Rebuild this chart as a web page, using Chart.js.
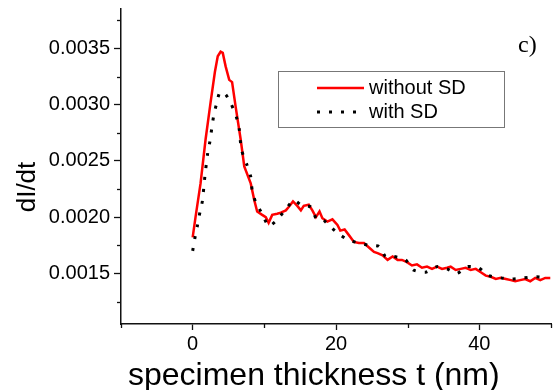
<!DOCTYPE html>
<html>
<head>
<meta charset="utf-8">
<script src="https://cdn.jsdelivr.net/npm/chart.js@4"></script>
<style>
  html, body { margin: 0; padding: 0; background: #fff; }
  #wrap { width: 555px; height: 390px; }
</style>
</head>
<body>
<div id="wrap"><canvas id="chart" width="555" height="390"></canvas></div>
<script>
// thickness (nm) and dI/dt values
const redT = [0, 0.4, 1.1, 1.8, 2.5, 3.1, 3.5, 3.9, 4.2, 4.6, 5.1, 5.5, 6.0, 6.7, 7.2, 8.1, 8.6, 9.0, 9.7, 10.2,
  10.6, 11.1, 11.8, 12.3, 13.0, 13.4, 14.0, 14.6, 15.1, 15.5, 16.2, 16.7, 17.2, 17.7, 18.1, 18.8, 19.5, 20.2, 20.6, 21.2,
  21.8, 22.5, 23.2, 23.9, 24.6, 25.3, 25.8, 26.5, 27.2, 27.9, 28.6, 29.2, 29.9, 30.6, 31.3, 32.0, 32.7, 33.4, 34.1, 34.8,
  35.5, 36.0, 36.7, 37.4, 38.1, 38.8, 39.5, 40.2, 40.9, 41.6, 42.3, 43.0, 43.7, 44.4, 45.0, 45.7, 46.4, 47.1, 47.8, 48.5,
  49.2, 49.9];
const redV = [0.00182, 0.00200, 0.00230, 0.00269, 0.00302, 0.00329, 0.00343, 0.00347, 0.00346, 0.00334, 0.00322, 0.00320,
  0.00298, 0.00269, 0.00245, 0.00230, 0.00215, 0.00205, 0.00202, 0.00200, 0.00195, 0.00202, 0.00203, 0.00204, 0.00206,
  0.00209, 0.00214, 0.00210, 0.00206, 0.00210, 0.00211, 0.00206, 0.00200, 0.00205, 0.00199, 0.00196, 0.00198, 0.00193,
  0.00188, 0.00189, 0.00184, 0.00178, 0.00177, 0.00177, 0.00173, 0.00169, 0.00168, 0.00166, 0.00162, 0.00165, 0.00162,
  0.00162, 0.00160, 0.00157, 0.00158, 0.00155, 0.00156, 0.00154, 0.00156, 0.00154, 0.00155, 0.00156, 0.00153, 0.00154,
  0.00155, 0.00153, 0.00154, 0.00151, 0.00148, 0.00147, 0.00145, 0.00146, 0.00145, 0.00144, 0.00143, 0.00144, 0.00145,
  0.00143, 0.00146, 0.00144, 0.00146, 0.00146];

const blackT = [0, 0.3, 0.65, 1.0, 1.35, 1.7, 2.1, 2.4, 2.9, 3.3, 3.8, 4.6, 5.4, 6.1, 6.5, 6.8, 7.6, 8.1, 8.3, 8.8,
  9.7, 10.6, 11.7, 13.0, 14.1, 15.3, 16.5, 17.3, 18.3, 19.3, 20.4, 21.6, 23.2, 24.6, 26.0, 26.9, 28.1, 29.7, 30.8, 32.5,
  34.1, 35.5, 36.9, 38.3, 39.9, 41.3, 43.0, 44.6, 46.2, 47.8, 49.5];
const blackV = [0.00170, 0.00181, 0.00192, 0.00204, 0.00214, 0.00236, 0.00257, 0.00267, 0.00289, 0.00300, 0.00311,
  0.00309, 0.00300, 0.00289, 0.00278, 0.00260, 0.00246, 0.00236, 0.00224, 0.00213, 0.00203, 0.00192, 0.00197, 0.00207,
  0.00215, 0.00210, 0.00209, 0.00198, 0.00197, 0.00191, 0.00185, 0.00180, 0.00177, 0.00175, 0.00174, 0.00165, 0.00165,
  0.00162, 0.00153, 0.00151, 0.00156, 0.00154, 0.00150, 0.00156, 0.00155, 0.00148, 0.00146, 0.00145, 0.00146, 0.00147,
  0.00146];

const seriesLabels = ["without SD", "with SD"];

// axis ticks
const xMajor = [0, 20, 40];
const xMinor = [-10, 10, 30, 50];
const yMajor = [0.0015, 0.0020, 0.0025, 0.0030, 0.0035];
const yMinor = [0.00125, 0.00175, 0.00225, 0.00275, 0.00325, 0.00375];

const FONT = "'Liberation Sans', Arial, sans-serif";

// minor ticks, axis titles, panel letter and the boxed legend
const extras = {
  id: "extras",
  afterDraw(chart) {
    const { ctx, chartArea, scales } = chart;
    ctx.save();
    ctx.strokeStyle = "#111";
    ctx.lineWidth = 1.3;
    xMinor.forEach((v) => {
      const px = Math.round(scales.x.getPixelForValue(v)) + 0.5;
      ctx.beginPath();
      ctx.moveTo(px, chartArea.bottom);
      ctx.lineTo(px, chartArea.bottom + 4);
      ctx.stroke();
    });
    yMinor.forEach((v) => {
      const py = Math.round(scales.y.getPixelForValue(v)) + 0.5;
      ctx.beginPath();
      ctx.moveTo(chartArea.left, py);
      ctx.lineTo(chartArea.left - 4, py);
      ctx.stroke();
    });

    ctx.fillStyle = "#000";
    ctx.font = "32px " + FONT;
    ctx.textAlign = "left";
    ctx.textBaseline = "alphabetic";
    ctx.fillText("specimen thickness t (nm)", 128, 385);

    ctx.save();
    ctx.translate(35, 187);
    ctx.rotate(-Math.PI / 2);
    ctx.font = "26px " + FONT;
    ctx.textAlign = "center";
    ctx.fillText("dI/dt", 0, 0);
    ctx.restore();

    ctx.font = "24px 'Liberation Serif', 'Times New Roman', serif";
    ctx.textAlign = "left";
    ctx.fillText("c)", 518, 52);

    // legend
    ctx.strokeStyle = "#777";
    ctx.lineWidth = 1;
    ctx.strokeRect(278.5, 71.5, 226, 56);
    const rows = [88, 112];
    chart.data.datasets.forEach((ds, i) => {
      ctx.save();
      ctx.strokeStyle = ds.borderColor;
      ctx.lineWidth = ds.borderWidth;
      ctx.setLineDash(ds.borderDash || []);
      ctx.beginPath();
      ctx.moveTo(317, rows[i]);
      ctx.lineTo(364, rows[i]);
      ctx.stroke();
      ctx.restore();
      ctx.fillStyle = "#000";
      ctx.font = "20px " + FONT;
      ctx.textBaseline = "middle";
      ctx.fillText(ds.label, 369, rows[i]);
    });
    ctx.restore();
  },
};

new Chart(document.getElementById("chart"), {
  type: "line",
  data: {
    datasets: [
      {
        label: seriesLabels[0],
        data: redT.map((t, i) => ({ x: t, y: redV[i] })),
        borderColor: "#ff0000",
        borderWidth: 2.5,
        pointRadius: 0,
        tension: 0,
        order: 1,
      },
      {
        label: seriesLabels[1],
        data: blackT.map((t, i) => ({ x: t, y: blackV[i] })),
        borderColor: "#000",
        borderWidth: 3,
        borderDash: [3, 9],
        pointRadius: 0,
        tension: 0.2,
        order: 0,
      },
    ],
  },
  options: {
    responsive: false,
    animation: false,
    layout: { padding: { top: 9, right: 4, left: 0, bottom: 0 } },
    plugins: {
      legend: { display: false },
      tooltip: { enabled: false },
    },
    scales: {
      x: {
        type: "linear",
        min: -10,
        max: 50,
        afterBuildTicks: (scale) => { scale.ticks = xMajor.map((value) => ({ value })); },
        afterFit: (scale) => {
          scale.height = 66;
          scale.paddingLeft = 0;
          scale.paddingRight = 0;
        },
        border: { color: "#111", width: 1.5 },
        grid: { drawOnChartArea: false, tickLength: 6, tickColor: "#111", tickWidth: 1.3 },
        ticks: { color: "#000", font: { family: FONT, size: 20 }, padding: 2, maxRotation: 0 },
      },
      y: {
        min: 0.00105,
        max: 0.00385,
        afterBuildTicks: (scale) => { scale.ticks = yMajor.map((value) => ({ value })); },
        afterFit: (scale) => {
          scale.width = 121;
          scale.paddingTop = 0;
          scale.paddingBottom = 0;
        },
        border: { color: "#111", width: 1.5 },
        grid: { drawOnChartArea: false, tickLength: 7, tickColor: "#111", tickWidth: 1.3 },
        ticks: {
          color: "#000",
          font: { family: FONT, size: 20 },
          padding: 4,
          callback: (v) => v.toFixed(4),
        },
      },
    },
  },
  plugins: [extras],
});
</script>
</body>
</html>
